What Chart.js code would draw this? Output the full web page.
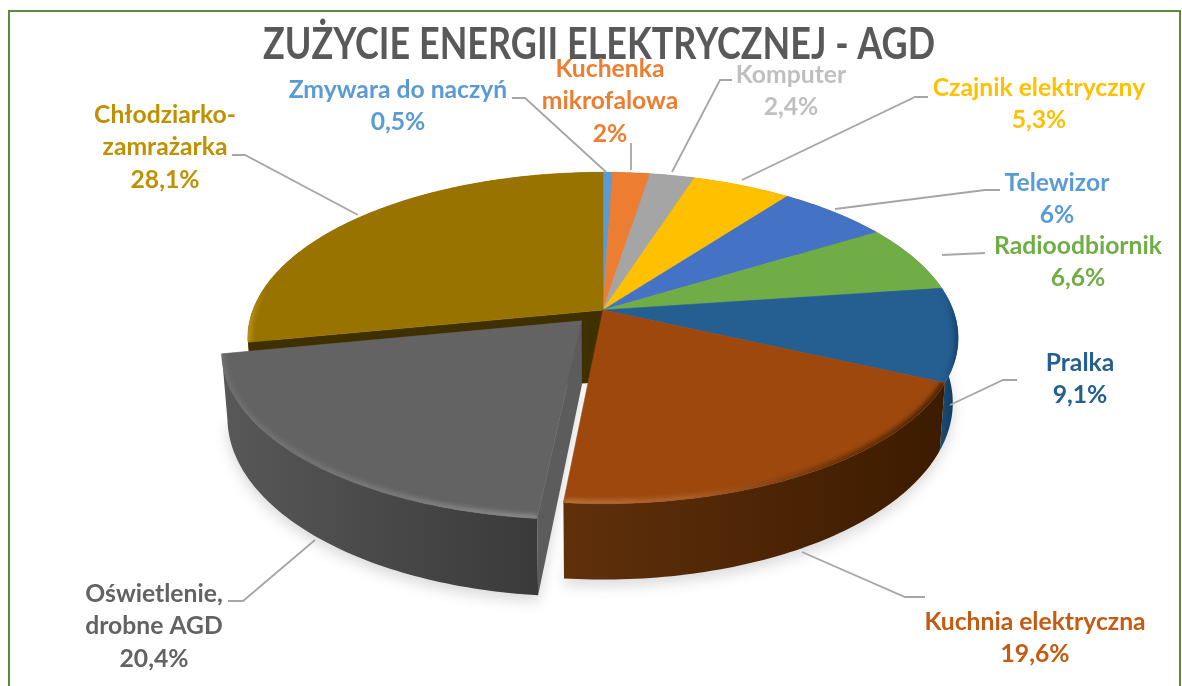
<!DOCTYPE html>
<html lang="pl"><head><meta charset="utf-8">
<style>html,body{margin:0;padding:0;background:#fff}canvas{display:block}</style>
<script src="https://cdn.jsdelivr.net/npm/chart.js@4"></script>
</head><body><canvas id="c" width="1182" height="686"></canvas>
<script>
const titleText = 'ZUŻYCIE ENERGII ELEKTRYCZNEJ - AGD';
const categories = ['Zmywara do naczyń',['Kuchenka','mikrofalowa'],'Komputer','Czajnik elektryczny','Telewizor','Radioodbiornik','Pralka','Kuchnia elektryczna',['Oświetlenie,','drobne AGD'],['Chłodziarko-','zamrażarka']];
const values = [0.5,2,2.4,5.3,6,6.6,9.1,19.6,20.4,28.1];
const valueTexts = ['0,5%','2%','2,4%','5,3%','6%','6,6%','9,1%','19,6%','20,4%','28,1%'];
const topColors = ['#5B9BD5','#ED7D31','#A5A5A5','#FFC000','#4472C4','#70AD47','#255E91','#9E480E','#636363','#997300'];
const textColors = ['#5B9BD5','#ED7D31','#BFBFBF','#FFC000','#5B9BD5','#70AD47','#255E91','#C55A11','#636363','#BF9000'];
const sideLeft = ['#36608a','#8f4a1c','#636363','#997300','#284478','#43682a','#1c4a72','#60300b','#585858','#7a5c00'];
const sideRight = ['#36608a','#8f4a1c','#636363','#997300','#284478','#43682a','#0c3658','#3c1b00','#3a3a3a','#5e4700'];
const rimStops = [null,null,null,null,null,null,
  [[0,'rgba(20,60,100,0)'],[0.5,'rgba(20,60,100,0.3)'],[1,'#17446c']],
  [[0,'#b8723f'],[0.35,'#a85c24'],[0.7,'#6e3308'],[1,'#4a2204']],
  [[0,'#6e6e6e'],[0.5,'#787878'],[0.85,'#858585'],[1,'#8a8a8a']],
  [[0,'#b8921a'],[0.05,'rgba(184,146,26,0)'],[1,'rgba(184,146,26,0)']]];
const explode = [0,0,0,0,0,0,0,0,0.09,0];
const labelCenters = [[398,90],[610,69],[791,75],[1039,88],[1057,183],[1078,246],[1080,363],[1035,622],[154,594],[165,115]];
const leaders = [
 [[512,98],[525,98],[606,172]],
 [[631,143],[631,170]],
 [[732,80],[720,80],[672,172]],
 [[928,97],[915,97],[742,180]],
 [[1000,190],[985,190],[835,209]],
 [[985,253],[942,255]],
 [[1017,380],[1003,380],[950,405]],
 [[925,597],[905,597],[802,552]],
 [[228,601],[243,601],[315,540]],
 [[232,155],[245,155],[358,215]]
];
const view = {cx:603, cy:310, X:350, Y:161, k:0.169, depth:63, taper:0.985};
const FONT = 'Lato, Carlito, sans-serif';

function project(u,v){const d=1-view.k*v;return [view.cx+view.X*u/d, view.cy+view.Y*v/d, d];}
function topPt(a,r,ex){return project(r*Math.sin(a)+ex[0], -r*Math.cos(a)+ex[1]);}
function botPt(a,r,ex,extra){const p=topPt(a,r,ex);return [view.cx+(p[0]-view.cx)*view.taper, p[1]+view.depth/p[2]+(extra||0)];}
function arcAngles(s,e){const out=[],n=Math.max(2,Math.ceil((e-s)/(Math.PI/180)));for(let i=0;i<=n;i++)out.push(s+(e-s)*i/n);return out;}
function trace(ctx,pts,close){ctx.beginPath();pts.forEach((p,i)=>i?ctx.lineTo(p[0],p[1]):ctx.moveTo(p[0],p[1]));if(close)ctx.closePath();}

const pie3d = {
 id:'pie3d',
 beforeDatasetDraw(chart,args){
  const ctx=chart.ctx, arcs=chart.getDatasetMeta(0).data;
  const S=arcs.map((el,i)=>{
    const s=el.startAngle+Math.PI/2,e=el.endAngle+Math.PI/2,mid=(s+e)/2;
    return {i,s,e,ex:[explode[i]*Math.sin(mid),-explode[i]*Math.cos(mid)],ang:arcAngles(s,e)};
  });
  ctx.save();ctx.filter='blur(7px)';ctx.fillStyle='rgba(0,0,0,0.15)';
  S.forEach(o=>{
    const pts=[botPt(0,0,o.ex)].concat(o.ang.map(a=>botPt(a,1,o.ex))).map(p=>[p[0],p[1]+6]);
    trace(ctx,pts,true);ctx.fill();
  });
  ctx.restore();
  const wall=o=>{
    const topA=o.ang.map(a=>topPt(a,1,o.ex)),botA=o.ang.map(a=>botPt(a,1,o.ex));
    const xs=topA.map(p=>p[0]);
    const g=ctx.createLinearGradient(Math.min(...xs),0,Math.max(...xs),0);
    g.addColorStop(0,sideLeft[o.i]);g.addColorStop(1,sideRight[o.i]);
    ctx.fillStyle=g;trace(ctx,topA.concat(botA.reverse()),true);ctx.fill();
  };
  const face=o=>{
    const rim=o.ang.map(a=>topPt(a,1,o.ex));
    const pts=[topPt(0,0,o.ex)].concat(rim);
    ctx.fillStyle=topColors[o.i];ctx.strokeStyle=topColors[o.i];ctx.lineWidth=0.6;
    trace(ctx,pts,true);ctx.fill();ctx.stroke();
    const stops=rimStops[o.i];
    if(stops){
      const xs=rim.map(p=>p[0]);
      const g=ctx.createLinearGradient(Math.min(...xs),0,Math.max(...xs),0);
      stops.forEach(st=>g.addColorStop(st[0],st[1]));
      ctx.save();trace(ctx,pts,true);ctx.clip();
      ctx.filter='blur(2.2px)';ctx.strokeStyle=g;ctx.lineWidth=8;
      trace(ctx,rim,false);ctx.stroke();ctx.restore();
    }
  };
  const plain=S.filter(o=>!explode[o.i]),out=S.filter(o=>explode[o.i]);
  plain.forEach(wall);
  plain.forEach(o=>{
    if(o.i===arcs.length-1){
      const a=o.s;
      ctx.fillStyle='#3f3000';
      trace(ctx,[topPt(a,0,o.ex),topPt(a,1,o.ex),botPt(a,1,o.ex),botPt(a,0,o.ex,9)],true);ctx.fill();
    }
  });
  plain.forEach(face);
  out.forEach(o=>{
    wall(o);
    const a=o.s;
    ctx.fillStyle='#5c5c5c';
    trace(ctx,[topPt(a,0,o.ex),topPt(a,1,o.ex),botPt(a,1,o.ex),botPt(a,0,o.ex)],true);ctx.fill();
    face(o);
  });
  return false;
 },
 afterDraw(chart){
  const ctx=chart.ctx;
  ctx.save();
  ctx.strokeStyle='#5B8A3C';ctx.lineWidth=2;
  ctx.beginPath();ctx.moveTo(9,686);ctx.lineTo(9,11);ctx.lineTo(1180,11);ctx.lineTo(1180,686);ctx.stroke();
  ctx.strokeStyle='#A6A6A6';ctx.lineWidth=1.8;
  leaders.forEach(l=>{trace(ctx,l,false);ctx.stroke();});
  ctx.textAlign='center';ctx.textBaseline='middle';
  ctx.fillStyle='#595959';ctx.font='bold 44px '+FONT;
  ctx.fillText(titleText,599,45,672);
  ctx.font='bold 24.7px '+FONT;
  categories.forEach((c,i)=>{
    const lines=[].concat(c,valueTexts[i]);
    ctx.fillStyle=textColors[i];
    lines.forEach((t,j)=>ctx.fillText(t,labelCenters[i][0],labelCenters[i][1]+j*32.3));
  });
  ctx.restore();
 }
};

new Chart(document.getElementById('c'),{
 type:'pie',
 data:{labels:categories,datasets:[{data:values,backgroundColor:topColors,borderWidth:0}]},
 options:{
  responsive:false,animation:false,
  plugins:{legend:{display:false},tooltip:{enabled:false},title:{display:false}}
 },
 plugins:[pie3d]
});
</script></body></html>
